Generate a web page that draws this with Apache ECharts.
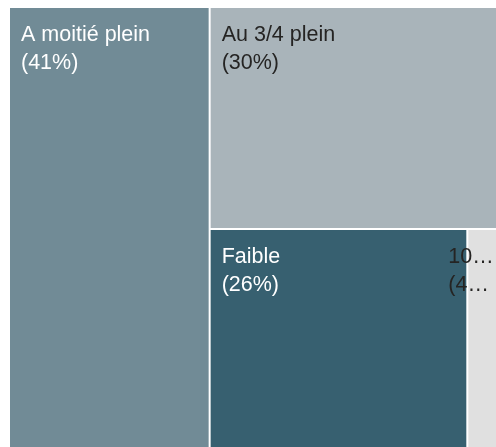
<!DOCTYPE html>
<html>
<head>
<meta charset="utf-8">
<script src="https://cdn.jsdelivr.net/npm/echarts@6/dist/echarts.min.js"></script>
<style>
  html, body { margin: 0; padding: 0; background: #fff; }
  #main { width: 496px; height: 447px; }
</style>
</head>
<body>
<div id="main"></div>
<script>
var names = ['A moitié plein', 'Au 3/4 plein', 'Faible', '100% plein'];
var values = [40.7, 29.8, 26.0, 3.5];
var palette = ['#718b96', '#a9b4ba', '#376070', '#e0e0e0'];
var textColors = ['#ffffff', '#252423', '#ffffff', '#252423'];

var chart = echarts.init(document.getElementById('main'));
var total = values.reduce(function (a, b) { return a + b; }, 0);
var fontSize = 21.5;

function pct(v) {
  return '(' + Math.round(v / total * 100) + '%)';
}

var data = names.map(function (n, i) {
  return {
    name: n,
    value: values[i],
    itemStyle: { color: palette[i] },
    label: { color: textColors[i] }
  };
});

// derniere case trop etroite : libelle decale a gauche et tronque
data[3].label.position = [-20, 13];
data[3].label.overflow = 'none';
data[3].label.formatter = function (p) {
  return [p.name, pct(p.value)].map(function (s) {
    return s.slice(0, 2) + '…';
  }).join('\n');
};

var option = {
  animation: false,
  series: [{
    type: 'treemap',
    left: 10,
    top: 8,
    right: -5,
    bottom: -1,
    squareRatio: 0.6,
    roam: false,
    nodeClick: false,
    breadcrumb: { show: false },
    label: {
      show: true,
      position: [11, 13],
      padding: 0,
      fontFamily: '"Liberation Sans", Arial, sans-serif',
      fontSize: fontSize,
      lineHeight: 28,
      formatter: function (p) {
        return p.name + '\n' + pct(p.value);
      }
    },
    itemStyle: { borderWidth: 0, gapWidth: 0 },
    levels: [{ itemStyle: { gapWidth: 2, borderColor: '#fff' } }],
    data: data
  }]
};
chart.setOption(option);
</script>
</body>
</html>
